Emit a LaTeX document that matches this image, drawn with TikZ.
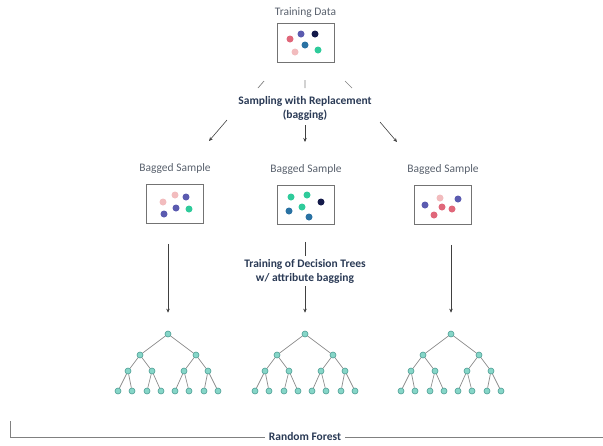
\documentclass[tikz,border=0pt]{standalone}
\usepackage{fontspec}
\setmainfont{Carlito}
\usetikzlibrary{positioning,arrows.meta}

\definecolor{dotred}{HTML}{E0677A}
\definecolor{dotpink}{HTML}{F2BCBE}
\definecolor{dotpurple}{HTML}{5B5BB0}
\definecolor{dotnavy}{HTML}{141A4A}
\definecolor{dotblue}{HTML}{2A72A3}
\definecolor{dotteal}{HTML}{2FCB9B}
\definecolor{titlegray}{HTML}{59616D}
\definecolor{captiondark}{HTML}{2A3A55}
\definecolor{leaffill}{HTML}{86D6C8}
\definecolor{leafline}{HTML}{4C9E94}

\begin{document}
\begin{tikzpicture}[
	x=1pt, y=-1pt,
	node distance=4pt,
	title/.style={
		font=\fontsize{11.5}{13}\selectfont,
		text=titlegray,
		inner sep=1pt},
	caption/.style={
		font=\fontsize{11.5}{14}\selectfont\bfseries,
		text=captiondark,
		align=center,
		fill=white,
		inner sep=3pt},
	databox/.style={
		draw=black!55,
		line width=0.9pt,
		minimum width=57pt,
		minimum height=39pt,
		inner sep=0pt},
	dot/.style={
		circle,
		fill=#1,
		inner sep=0pt,
		minimum size=7pt},
	leaf/.style={
		circle,
		draw=leafline,
		fill=leaffill,
		line width=0.6pt,
		inner sep=0pt,
		minimum size=6pt},
	link/.style={draw=black!50, line width=0.7pt},
	branch/.style={draw=black!45, line width=0.7pt},
	flow/.style={
		draw=black!75,
		line width=0.6pt,
		-{Stealth[length=4pt,width=3.5pt]}}]

	\useasboundingbox (0,0) rectangle (603,445);

	% training data
	\node[databox] (data) at (305.5,42.5) {};
	\node[title, above=of data] (datatitle) {Training Data};
	\foreach \c/\x/\y [count=\k] in {dotred/290/39, dotpurple/301/34, dotnavy/315/34,
		dotblue/305/45, dotpink/295/52, dotteal/318/50}
		\node[dot=\c] (dt\k) at (\x,\y) {};

	\node[caption] (sampling) at (305,108) {Sampling with Replacement\\(bagging)};

	% bagged samples
	\node[databox] (lbox) at (175,204) {};
	\node[databox] (mbox) at (306,205) {};
	\node[databox] (rbox) at (443,205) {};
	\node[title, above=9pt of lbox] (ltitle) {Bagged Sample};
	\node[title, above=9pt of mbox] (mtitle) {Bagged Sample};
	\node[title, above=9pt of rbox] (rtitle) {Bagged Sample};
	\foreach \c/\x/\y [count=\k] in {dotpink/163/202, dotpink/175/195, dotpurple/186/197,
		dotpurple/176/208, dotteal/189/209, dotpurple/164/214}
		\node[dot=\c] (dl\k) at (\x,\y) {};
	\foreach \c/\x/\y [count=\k] in {dotteal/291/197, dotteal/307/195, dotnavy/321/202,
		dotblue/289/211, dotteal/302/207, dotblue/309/217}
		\node[dot=\c] (dm\k) at (\x,\y) {};
	\foreach \c/\x/\y [count=\k] in {dotpink/440/198, dotpurple/458/199, dotpurple/425/205,
		dotred/442/207, dotred/452/209, dotred/434/215}
		\node[dot=\c] (dr\k) at (\x,\y) {};

	% sampling strokes
	\coordinate (tl) at (264,81);  \coordinate (tl') at (258,88);
	\coordinate (tm) at (305,80);  \coordinate (tm') at (305,88);
	\coordinate (tr) at (345,81);  \coordinate (tr') at (352,88);
	\coordinate (bl) at (227,120); \coordinate (bl') at (209,141);
	\coordinate (bm) at (305,125); \coordinate (bm') at (305,142);
	\coordinate (br) at (380,122); \coordinate (br') at (397,142);
	\draw[link] (tl) -- (tl') (tm) -- (tm') (tr) -- (tr');
	\draw[flow] (bl) -- (bl');
	\draw[flow] (bm) -- (bm');
	\draw[flow] (br) -- (br');

	% decision trees
	\foreach \t/\cx in {a/168,b/305,c/451}{
		\foreach \i/\dx/\yy in {1/0/334, 2/-28/355, 3/28/355,
			4/-40/371, 5/-16/371, 6/16/371, 7/40/371,
			8/-50/391, 9/-36/391, 10/-21/391, 11/-7/391,
			12/7/391, 13/21/391, 14/36/391, 15/50/391}
			\node[leaf] (\t\i) at ({\cx+(\dx)},\yy) {};
		\foreach \i in {2,...,15}{
			\pgfmathtruncatemacro\up{\i/2}
			\draw[branch] (\t\up) -- (\t\i);
		}
	}

	\draw[flow, shorten <=20pt, shorten >=18pt] (lbox.south -| a1) -- (a1);
	\draw[flow, shorten <=17pt, shorten >=18pt] (mbox.south -| b1) -- (b1);
	\draw[flow, shorten <=20pt, shorten >=18pt] (rbox.south -| c1) -- (c1);
	\node[caption] (training) at (305,271) {Training of Decision Trees\\w/ attribute bagging};

	% random forest bracket
	\node[caption, inner sep=4pt] (forest) at (305,437) {Random Forest};
	\coordinate (fl) at (10,421);
	\coordinate (fr) at (603,437);
	\draw[link] (fl) |- (forest.west);
	\draw[link] (forest.east) -- (fr);
\end{tikzpicture}
\end{document}
